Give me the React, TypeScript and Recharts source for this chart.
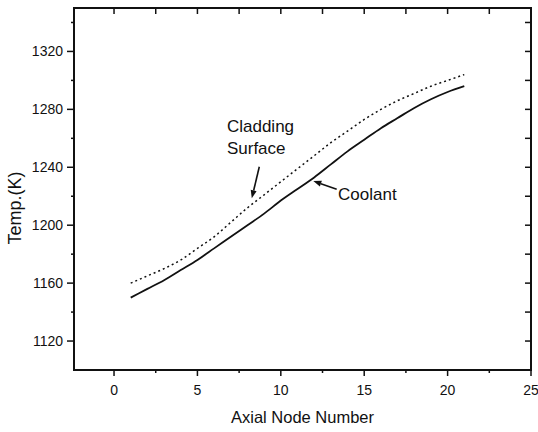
import { LineChart, Line, XAxis, YAxis, Label, ReferenceLine, ReferenceDot, ReferenceArea } from "recharts";

// axial nodes and temperatures (K)
const nodes = [1, 2, 3, 4, 5, 6, 7, 8, 9, 10, 11, 12, 13, 14, 15, 16, 17, 18, 19, 20, 21];
const coolant = [1150, 1156, 1162, 1169, 1176, 1184, 1192, 1200, 1208, 1217, 1225, 1233, 1242, 1251, 1259, 1267, 1274, 1281, 1287, 1292, 1296];
const cladding = [1160, 1165, 1170, 1176, 1184, 1192, 1202, 1212, 1221, 1230, 1239, 1248, 1257, 1265, 1273, 1280, 1286, 1291, 1296, 1300, 1304];

const xMajor = [0, 5, 10, 15, 20, 25];
const xMinor = [2.5, 7.5, 12.5, 17.5, 22.5];
const yMajor = [1120, 1160, 1200, 1240, 1280, 1320];
const yMinor = [1140, 1180, 1220, 1260, 1300, 1340];

const data = nodes.map((n, i) => ({ node: n, coolant: coolant[i], cladding: cladding[i] }));

const ink = "#111";
const font = "'Liberation Sans', Arial, Helvetica, sans-serif";
const xDomain = [-2.4, 25];
const yDomain = [1100, 1350];
const xTicks = [...xMajor, ...xMinor].sort((a, b) => a - b);
const yTicks = [...yMajor, ...yMinor].sort((a, b) => a - b);

const XTick = (props: any) => {
  const { x, y, payload } = props;
  const axisY = y - 15;
  const minor = !xMajor.includes(payload.value);
  return (
    <g>
      <line x1={x} x2={x} y1={axisY} y2={axisY + (minor ? 3 : 6)} stroke={ink} strokeWidth={1.5} />
      {!minor && (
        <text x={x} y={y} dy="0.71em" textAnchor="middle" fontSize={14} fill={ink} fontFamily={font}>
          {payload.value}
        </text>
      )}
    </g>
  );
};

const YTick = (props: any) => {
  const { x, y, payload } = props;
  const axisX = x + 11;
  const minor = !yMajor.includes(payload.value);
  return (
    <g>
      <line x1={axisX - (minor ? 3 : 7)} x2={axisX} y1={y} y2={y} stroke={ink} strokeWidth={1.5} />
      {!minor && (
        <text x={x} y={y} dy="0.35em" textAnchor="end" fontSize={14} fill={ink} fontFamily={font}>
          {payload.value}
        </text>
      )}
    </g>
  );
};

// plot frame plus inward ticks on the top and right edges
const Frame = (p: any) => {
  const { x, y, width, height } = p;
  const sx = width / (xDomain[1] - xDomain[0]);
  const sy = height / (yDomain[1] - yDomain[0]);
  return (
    <g>
      <rect x={x} y={y} width={width} height={height} fill="none" stroke={ink} strokeWidth={2} />
      {xTicks.map((t) => {
        const tx = x + (t - xDomain[0]) * sx;
        return <line key={"t" + t} x1={tx} x2={tx} y1={y} y2={y + 6} stroke={ink} strokeWidth={1.5} />;
      })}
      {yTicks.map((t) => {
        const ty = y + height - (t - yDomain[0]) * sy;
        return <line key={"r" + t} x1={x + width - 6} x2={x + width} y1={ty} y2={ty} stroke={ink} strokeWidth={1.5} />;
      })}
    </g>
  );
};

const Arrow = (p: any) => {
  const { x1, y1, x2, y2 } = p;
  const ang = Math.atan2(y2 - y1, x2 - x1);
  const len = 8;
  const w = 3;
  const bx = x2 - len * Math.cos(ang);
  const by = y2 - len * Math.sin(ang);
  const pts = `${x2},${y2} ${bx + w * Math.sin(ang)},${by - w * Math.cos(ang)} ${bx - w * Math.sin(ang)},${by + w * Math.cos(ang)}`;
  return (
    <g>
      <line x1={x1} y1={y1} x2={bx} y2={by} stroke={ink} strokeWidth={1.6} />
      <polygon points={pts} fill={ink} />
    </g>
  );
};

export default function App() {
  return (
    <div style={{ position: "absolute", left: 0, top: 0, background: "#fff" }}>
      <LineChart width={538} height={432} data={data} margin={{ top: 8, right: 7, bottom: 6, left: 14 }}>
        <XAxis
          xAxisId="b"
          dataKey="node"
          type="number"
          domain={xDomain}
          ticks={xTicks}
          interval={0}
          height={56}
          tickSize={6}
          tickMargin={9}
          tickLine={false}
          tick={<XTick />}
          axisLine={false}
        >
          <Label value="Axial Node Number" position="insideBottom" offset={3} fontSize={16.5} fill={ink} fontFamily={font} />
        </XAxis>
        <YAxis
          yAxisId="l"
          type="number"
          domain={yDomain}
          ticks={yTicks}
          interval={0}
          width={60}
          tickSize={7}
          tickMargin={4}
          tickLine={false}
          tick={<YTick />}
          axisLine={false}
        >
          <Label
            content={({ viewBox }: any) => {
              const cx = viewBox.x + 7;
              const cy = viewBox.y + viewBox.height / 2 + 19;
              return (
                <text x={cx} y={cy} transform={`rotate(-90 ${cx} ${cy})`} textAnchor="middle" fontSize={18} fill={ink} fontFamily={font}>
                  Temp.(K)
                </text>
              );
            }}
          />
        </YAxis>

        <ReferenceArea
          xAxisId="b"
          yAxisId="l"
          x1={xDomain[0]}
          x2={xDomain[1]}
          y1={yDomain[0]}
          y2={yDomain[1]}
          ifOverflow="visible"
          shape={<Frame />}
        />

        <Line
          xAxisId="b"
          yAxisId="l"
          type="monotone"
          dataKey="cladding"
          stroke={ink}
          strokeWidth={1.5}
          strokeDasharray="2 3"
          dot={false}
          isAnimationActive={false}
        />
        <Line
          xAxisId="b"
          yAxisId="l"
          type="monotone"
          dataKey="coolant"
          stroke={ink}
          strokeWidth={1.8}
          dot={false}
          isAnimationActive={false}
        />
        <ReferenceLine
          xAxisId="b"
          yAxisId="l"
          segment={[{ x: 8.71, y: 1240.4 }, { x: 8.26, y: 1218.6 }]}
          shape={<Arrow />}
        />
        <ReferenceLine
          xAxisId="b"
          yAxisId="l"
          segment={[{ x: 13.35, y: 1224.8 }, { x: 11.95, y: 1230.5 }]}
          shape={<Arrow />}
        />
        <ReferenceDot
          xAxisId="b"
          yAxisId="l"
          x={6.77}
          y={1264.4}
          r={0}
          shape={(p: any) => (
            <text x={p.cx} y={p.cy} fontSize={17} fill={ink} fontFamily={font}>
              <tspan x={p.cx}>Cladding</tspan>
              <tspan x={p.cx} dy={22}>Surface</tspan>
            </text>
          )}
        />
        <ReferenceDot
          xAxisId="b"
          yAxisId="l"
          x={13.43}
          y={1217.4}
          r={0}
          shape={(p: any) => (
            <text x={p.cx} y={p.cy} fontSize={17} fill={ink} fontFamily={font}>
              Coolant
            </text>
          )}
        />
      </LineChart>
    </div>
  );
}
